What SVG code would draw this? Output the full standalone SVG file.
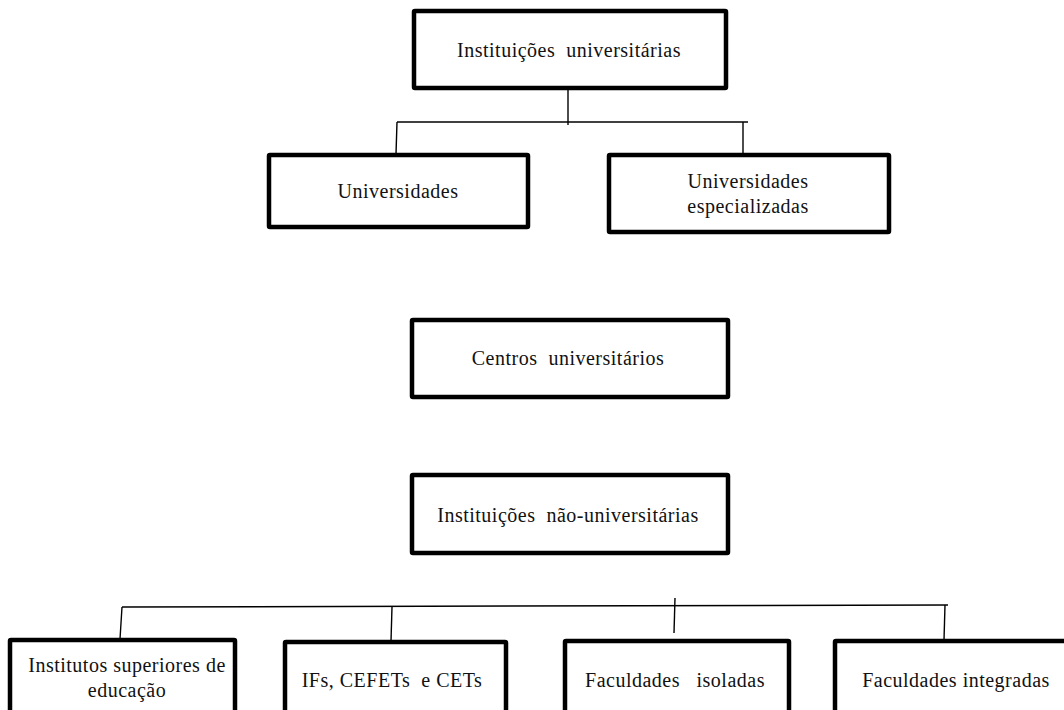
<svg xmlns="http://www.w3.org/2000/svg" width="1064" height="710" viewBox="0 0 1064 710">
<style>
.box{fill:#fff;stroke:#000;stroke-width:4.5;stroke-linejoin:round}
.ln{stroke:#000;stroke-width:1.4;fill:none}
.t{font-family:"Liberation Serif","Times New Roman",serif;font-size:20px;fill:#111;text-anchor:middle;letter-spacing:0.5px;white-space:pre}
</style>
<rect width="1064" height="710" fill="#fff"/>
<g id="connectors">
<line class="ln" x1="568" y1="90" x2="568" y2="125"/>
<line class="ln" x1="397" y1="122" x2="748" y2="122"/>
<line class="ln" x1="397" y1="122" x2="396" y2="154"/>
<line class="ln" x1="743" y1="122" x2="743" y2="154"/>
<line class="ln" x1="122" y1="607" x2="948" y2="605"/>
<line class="ln" x1="675" y1="598" x2="674" y2="633"/>
<line class="ln" x1="122" y1="607" x2="120" y2="639"/>
<line class="ln" x1="392" y1="607" x2="391" y2="641"/>
<line class="ln" x1="945" y1="605" x2="944" y2="640"/>
</g>
<g id="n-inst-univ">
<rect class="box" x="414" y="11" width="312" height="77" rx="1"/>
<text class="t" x="569" y="57">Instituições  universitárias</text>
</g>
<g id="n-universidades">
<rect class="box" x="269" y="155" width="259" height="72" rx="1"/>
<text class="t" x="398" y="198">Universidades</text>
</g>
<g id="n-univ-espec">
<rect class="box" x="609" y="155" width="280" height="77" rx="1"/>
<text class="t" x="748" y="188">Universidades</text>
<text class="t" x="748" y="213">especializadas</text>
</g>
<g id="n-centros">
<rect class="box" x="412" y="320" width="316" height="77" rx="1"/>
<text class="t" x="568" y="365">Centros  universitários</text>
</g>
<g id="n-inst-nao-univ">
<rect class="box" x="412" y="475" width="316" height="78" rx="1"/>
<text class="t" x="568" y="522">Instituições  não-universitárias</text>
</g>
<g id="n-institutos">
<rect class="box" x="10" y="640" width="225" height="90" rx="1"/>
<text class="t" x="127" y="672">Institutos superiores de</text>
<text class="t" x="127" y="697">educação</text>
</g>
<g id="n-ifs">
<rect class="box" x="285" y="642" width="221" height="90" rx="1"/>
<text class="t" x="392" y="687">IFs, CEFETs  e CETs</text>
</g>
<g id="n-isoladas">
<rect class="box" x="565" y="641" width="224" height="90" rx="1"/>
<text class="t" x="675" y="687">Faculdades   isoladas</text>
</g>
<g id="n-integradas">
<rect class="box" x="835" y="641" width="240" height="90" rx="1"/>
<text class="t" x="956" y="687">Faculdades integradas</text>
</g>
</svg>
